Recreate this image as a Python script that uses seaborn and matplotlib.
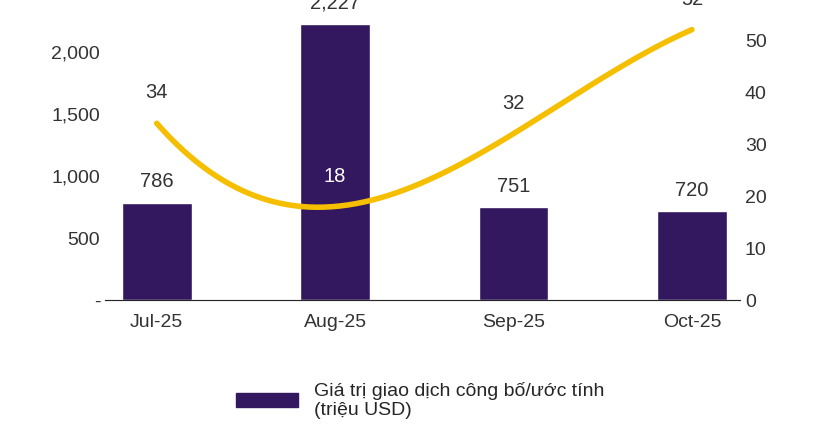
import numpy as np
import matplotlib
matplotlib.use("Agg")
import matplotlib.pyplot as plt
import seaborn as sns
import pandas as pd
from matplotlib.ticker import FuncFormatter
from matplotlib.patches import Patch

months = ["Jul-25", "Aug-25", "Sep-25", "Oct-25"]
deal_value = [786, 2227, 751, 720]
deal_count = [34, 18, 32, 52]

sns.set_style("white")
plt.rcParams['font.family'] = ['Liberation Sans', 'DejaVu Sans']

fig = plt.figure(figsize=(8.4, 4.4), dpi=100)
ax = fig.add_axes([0.125, 0.318, 0.756, 0.682])
df = pd.DataFrame({"m": months, "v": deal_value})
sns.barplot(data=df, x="m", y="v", color="#33175f", width=0.39, ax=ax, saturation=1)
ax.set_ylim(0, 2420)
ax.set_yticks([0, 500, 1000, 1500, 2000])
ax.yaxis.set_major_formatter(FuncFormatter(lambda v, p: "-" if v == 0 else f"{int(v):,}"))
ax.set_xlabel(""); ax.set_ylabel("")
for i, v in enumerate(deal_value):
    ax.text(i, v + 90, f"{v:,}", ha="center", va="bottom", fontsize=14.5, color="#333333")

ax2 = ax.twinx()
x = np.arange(len(months))
coef = np.polyfit(x, deal_count, 3)
xs = np.linspace(0, 3, 200)
ax2.plot(xs, np.polyval(coef, xs), color="#f5bf00", lw=4)
ax2.set_ylim(0, 57.7)
ax2.set_yticks([0, 10, 20, 30, 40, 50])
for i, v in enumerate(deal_count):
    col = "white" if i == 1 else "#333333"
    yy = v + 4 if i != 1 else 22
    ax2.text(i, yy, str(v), ha="center", va="bottom", fontsize=14.5, color=col)
ax.set_xlim(-0.29, 3.27)

for a in (ax, ax2):
    for s in ["top", "left", "right"]:
        a.spines[s].set_visible(False)
    a.tick_params(labelsize=14, colors="#333333", length=0)
ax.spines["bottom"].set_color("#999999")
ax.tick_params(axis="x", pad=10)

fig.legend(handles=[Patch(color="#33175f")],
           labels=["Giá trị giao dịch công bố/ước tính\n(triệu USD)"],
           loc="center", bbox_to_anchor=(0.5, 0.09), frameon=False, fontsize=14,
           handlelength=3.2, handleheight=0.7)
fig.savefig("out.png", dpi=100)
